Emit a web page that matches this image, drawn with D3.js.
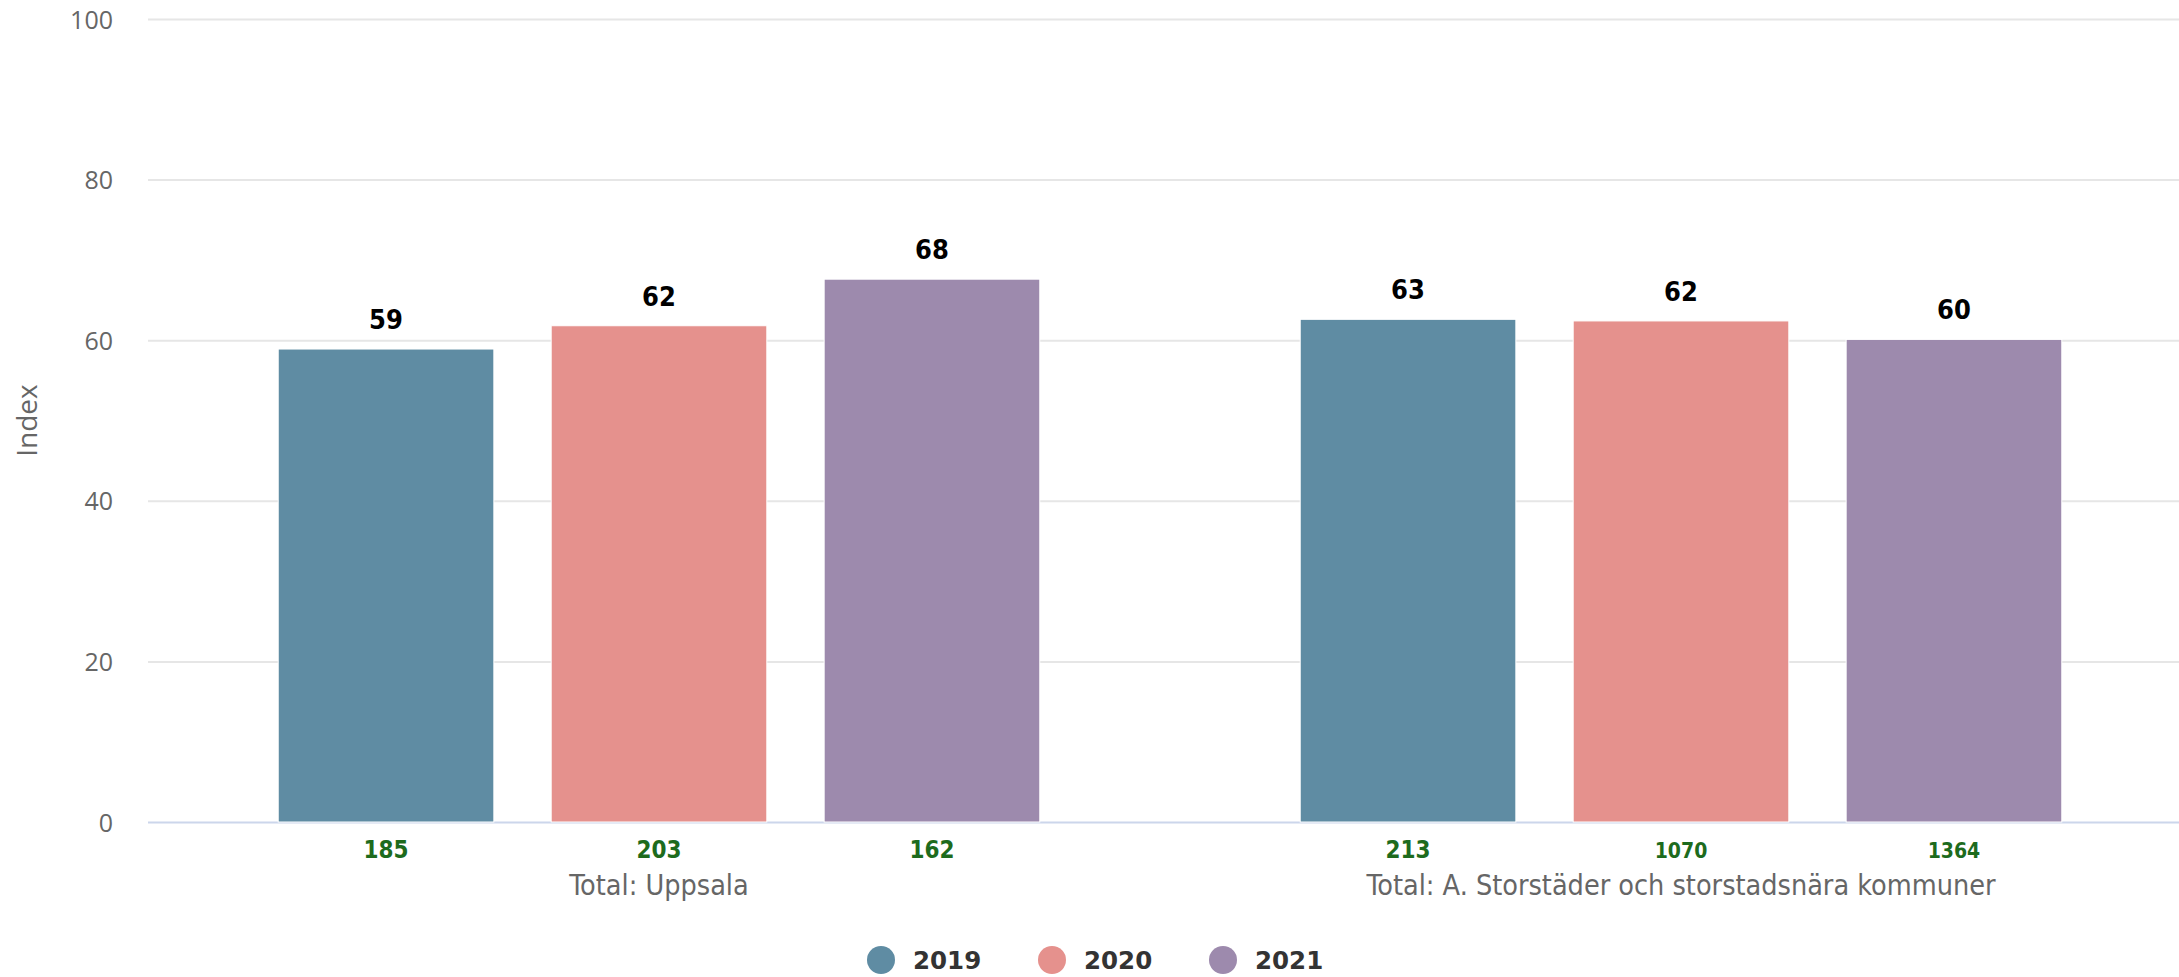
<!DOCTYPE html>
<html>
<head>
<meta charset="utf-8">
<script src="https://cdn.jsdelivr.net/npm/d3@7"></script>
<style>
  html, body { margin: 0; padding: 0; background: #fff; }
</style>
</head>
<body>
<div id="chart"></div>
<script>
// data
const categories = ["Total: Uppsala", "Total: A. Storstäder och storstadsnära kommuner"];
const years = ["2019", "2020", "2021"];
const colors = ["#5f8ca3", "#e5918d", "#9d8aad"];
const values2019 = [58.9, 62.6];
const values2020 = [61.8, 62.4];
const values2021 = [67.6, 60.1];
const counts2019 = [185, 213];
const counts2020 = [203, 1070];
const counts2021 = [162, 1364];
const yTicks = [0, 20, 40, 60, 80, 100];

const seriesValues = [values2019, values2020, values2021];
const seriesCounts = [counts2019, counts2020, counts2021];

const width = 2179;
const height = 977;
const margin = {top: 19, left: 148, bottom: 155};
const plotRight = 2192; // plot runs past the right edge like in the source

const svg = d3.select("#chart")
  .append("svg")
  .attr("width", width)
  .attr("height", height)
  .style("display", "block");

const y = d3.scaleLinear()
  .domain([0, 100])
  .range([height - margin.bottom, margin.top]);

const x0 = d3.scaleBand()
  .domain(categories)
  .range([margin.left, plotRight]);

const x1 = d3.scaleBand()
  .domain(years)
  .range([0, x0.bandwidth()])
  .paddingInner(0.21)
  .paddingOuter(0.477);

// grid
const grid = svg.append("g")
  .attr("transform", `translate(${margin.left},0)`)
  .call(d3.axisLeft(y).tickValues(yTicks).tickSize(-(plotRight - margin.left)).tickFormat(""));
grid.select(".domain").remove();
grid.selectAll("line")
  .attr("stroke", d => d === 0 ? "#ccd6eb" : "#e6e6e6")
  .attr("stroke-width", 2);

// y labels
const yAxis = svg.append("g")
  .attr("transform", `translate(113,0)`)
  .call(d3.axisLeft(y).tickValues(yTicks).tickSize(0).tickPadding(0));
yAxis.select(".domain").remove();
yAxis.selectAll("text")
  .attr("fill", "#666")
  .attr("font-family", "'Open Sans', sans-serif")
  .attr("font-size", "25px")
  .attr("dy", "0.36em");

svg.append("text")
  .attr("transform", `translate(37,${(y(0) + y(100)) / 2}) rotate(-90)`)
  .attr("text-anchor", "middle")
  .attr("fill", "#666")
  .attr("font-family", "'Open Sans', sans-serif")
  .attr("font-size", "28px")
  .text("Index");

// bars
const groups = svg.append("g")
  .selectAll("g")
  .data(categories)
  .join("g")
  .attr("transform", d => `translate(${x0(d)},0)`);

groups.each(function(cat, ci) {
  const g = d3.select(this);
  years.forEach((yr, si) => {
    const v = seriesValues[si][ci];
    const bx = x1(yr);
    const bw = x1.bandwidth();
    g.append("rect")
      .attr("x", bx)
      .attr("y", y(v))
      .attr("width", bw)
      .attr("height", y(0) - y(v))
      .attr("fill", colors[si])
      .attr("stroke", "#fff")
      .attr("stroke-width", 1);

    g.append("text")
      .attr("x", bx + bw / 2)
      .attr("y", y(v) - 20)
      .attr("text-anchor", "middle")
      .attr("font-family", "'Liberation Sans Narrow', 'DejaVu Sans Condensed', sans-serif")
      .attr("font-weight", "bold")
      .attr("font-size", "27px")
      .attr("fill", "#000")
      .text(Math.round(v));

    const c = seriesCounts[si][ci];
    g.append("text")
      .attr("x", bx + bw / 2)
      .attr("y", y(0) + 36)
      .attr("text-anchor", "middle")
      .attr("font-family", "'Liberation Sans Narrow', 'DejaVu Sans Condensed', sans-serif")
      .attr("font-weight", "bold")
      .attr("font-size", c >= 1000 ? "21px" : "24px")
      .attr("fill", "#1d6b1d")
      .text(c);
  });

  g.append("text")
    .attr("x", x0.bandwidth() / 2)
    .attr("y", y(0) + 73)
    .attr("text-anchor", "middle")
    .attr("font-family", "'Liberation Sans Narrow', 'DejaVu Sans Condensed', sans-serif")
    .attr("font-size", "28.5px")
    .attr("fill", "#666")
    .text(cat);
});

// legend
const legendX = [881, 1052, 1223];
const legend = svg.append("g")
  .selectAll("g")
  .data(years)
  .join("g")
  .attr("transform", (d, i) => `translate(${legendX[i]},960)`);

legend.append("circle")
  .attr("r", 14)
  .attr("fill", (d, i) => colors[i]);

legend.append("text")
  .attr("x", 32)
  .attr("y", 9)
  .attr("font-family", "'DejaVu Sans', sans-serif")
  .attr("font-weight", "bold")
  .attr("font-size", "24.5px")
  .attr("fill", "#333")
  .text(d => d);
</script>
</body>
</html>
